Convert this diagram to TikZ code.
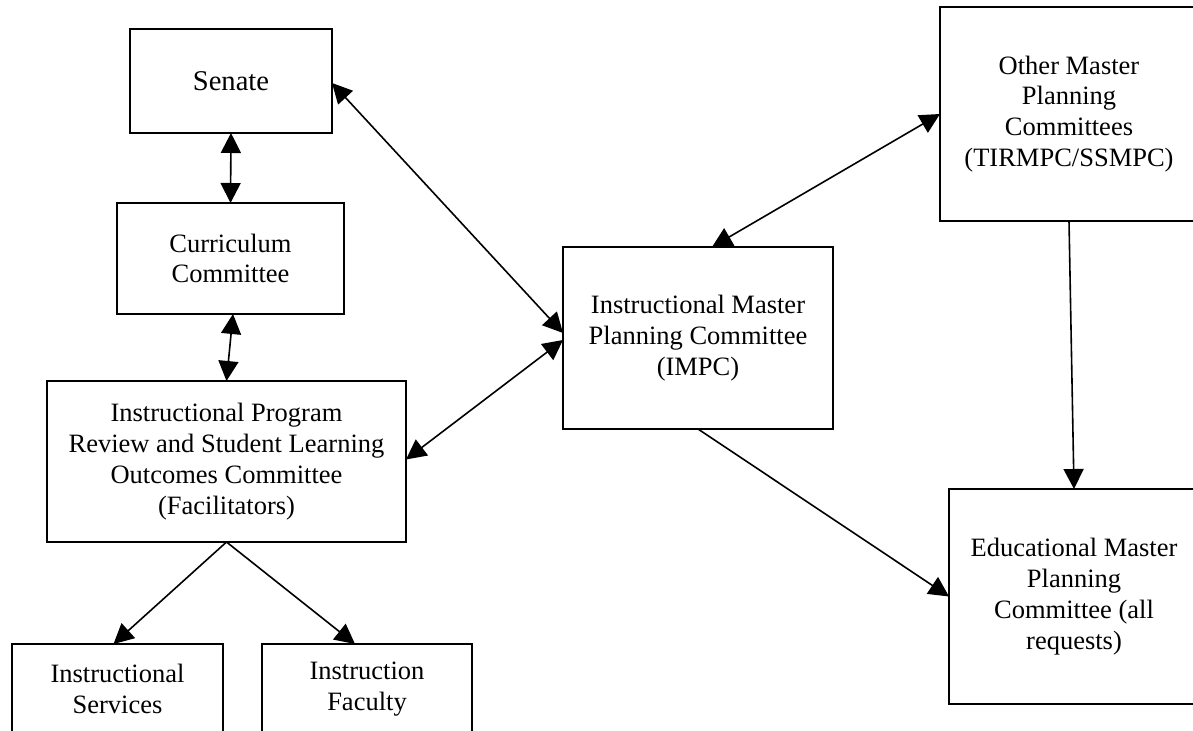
\documentclass[tikz,border=0pt]{standalone}
\usepackage{fontspec}
\setmainfont{Liberation Serif}
\usetikzlibrary{arrows.meta,calc}
\begin{document}
\begin{tikzpicture}[x=0.5pt,y=-0.5pt,
  box/.style={draw,line width=1pt,inner sep=0pt,outer sep=0pt,align=center,
    font=\fontsize{13.25pt}{15.4pt}\selectfont},
  link/.style={line width=0.8pt,
    {Triangle[length=10pt,width=10pt]}-{Triangle[length=10pt,width=10pt]}},
  oneway/.style={line width=0.8pt,-{Triangle[length=10pt,width=10pt]}}]
\useasboundingbox (0,0) rectangle (1193,731);
\fill[white] (0,0) rectangle (1193,731);
% boxes
\node[box,minimum width=101pt,minimum height=52pt,font=\fontsize{14.3pt}{16.5pt}\selectfont] (senate) at (231,81) {Senate};
\node[box,minimum width=113.5pt,minimum height=55.5pt] (curr) at (230.5,258.5) {Curriculum\\Committee};
\node[box,minimum width=179.5pt,minimum height=80.5pt] (ipr) at (226.5,461.5)
  {Instructional Program\\Review and Student Learning\\Outcomes Committee\\(Facilitators)};
\node[box,minimum width=105.5pt,minimum height=45pt] (isv) at (117.5,689) {Instructional\\Services};
\node[box,minimum width=105pt,minimum height=45pt] (ifac) at (367,689) {Instruction\\Faculty};
\node[box,minimum width=135pt,minimum height=91pt] (impc) at (698,338)
  {Instructional Master\\Planning Committee\\(IMPC)};
\node[box,minimum width=129pt,minimum height=107pt] (other) at (1069,114)
  {Other Master\\Planning\\Committees\\(TIRMPC/SSMPC)};
\node[box,minimum width=125pt,minimum height=107.5pt] (edu) at (1074,596.5)
  {Educational Master\\Planning\\Committee (all\\requests)};
% connectors
\draw[link] (senate.south) -- (curr.north);
\draw[link] ($(curr.south)+(1.25pt,0)$) -- (ipr.north);
\draw[link] ($(senate.east)+(0,-1pt)$) -- ($(impc.west)+(0,2.5pt)$);
\draw[link] ($(ipr.east)+(0,1pt)$) -- ($(impc.west)+(0,-1pt)$);
\draw[link] ($(impc.north)+(7pt,0)$) -- (other.west);
\draw[oneway] (other.south) -- (edu.north);
\draw[oneway] (impc.south) -- (edu.west);
\draw[oneway] (ipr.south) -- ($(isv.north)+(-2pt,0)$);
\draw[oneway] (ipr.south) -- ($(ifac.north)+(-6pt,0)$);
\end{tikzpicture}
\end{document}
